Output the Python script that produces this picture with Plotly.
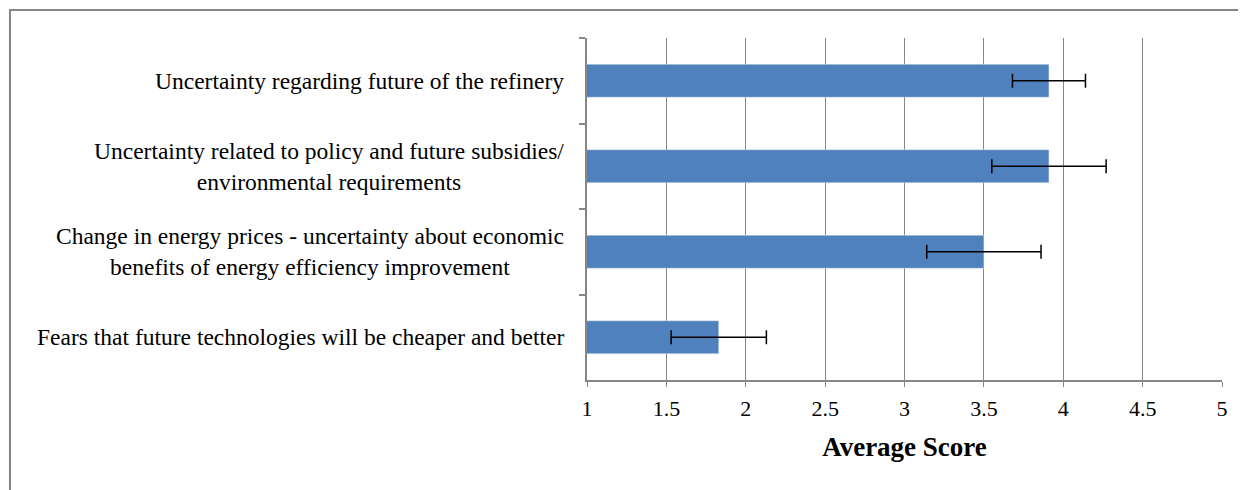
import plotly.graph_objects as go

factors = [
    "Uncertainty regarding future of the refinery",
    "Uncertainty related to policy and future subsidies/<br>environmental requirements",
    "Change in energy prices - uncertainty about economic<br>benefits of energy efficiency improvement",
    "Fears that future technologies will be cheaper and better",
]
scores = [3.91, 3.91, 3.50, 1.83]
errors = [0.23, 0.36, 0.36, 0.30]

grey = "#868686"
serif = "Liberation Serif, Times New Roman, serif"

fig = go.Figure()
fig.add_trace(go.Bar(
    y=factors, x=scores, orientation="h",
    marker_color="#4F81BD",
    error_x=dict(type="data", array=errors, color="black", thickness=1.5, width=7),
    showlegend=False,
))

# category labels as annotations so two-line labels are centred like the original
for f in factors:
    fig.add_annotation(x=-0.033, xref="paper", y=f, yref="y", text=f,
                       showarrow=False, xanchor="right", align="center",
                       font=dict(family=serif, size=23.5, color="black"))

# outer chart frame
fig.add_shape(type="rect", xref="paper", yref="paper",
              x0=-0.9087, x1=1.06, y0=-0.36, y1=1.0819,
              line=dict(color=grey, width=2))

fig.update_xaxes(range=[1, 5], dtick=0.5, showgrid=True, gridcolor=grey, gridwidth=1,
                 showline=True, linecolor=grey, linewidth=1.5,
                 ticks="outside", ticklen=5, tickcolor=grey, ticklabelstandoff=3,
                 tickfont=dict(family=serif, size=22, color="black"),
                 title=dict(text="<b>Average Score</b>", standoff=17,
                            font=dict(family=serif, size=27, color="black")),
                 zeroline=False)
fig.update_yaxes(autorange="reversed", showticklabels=False, tickson="boundaries",
                 ticks="outside", ticklen=6, tickcolor=grey, tickwidth=1.5,
                 showline=True, linecolor=grey, linewidth=2, showgrid=False)

fig.update_layout(
    width=1238, height=482,
    margin=dict(l=579, r=24, t=30, b=110),
    bargap=0.614,
    plot_bgcolor="white", paper_bgcolor="white",
)

fig.write_html("out.html")
